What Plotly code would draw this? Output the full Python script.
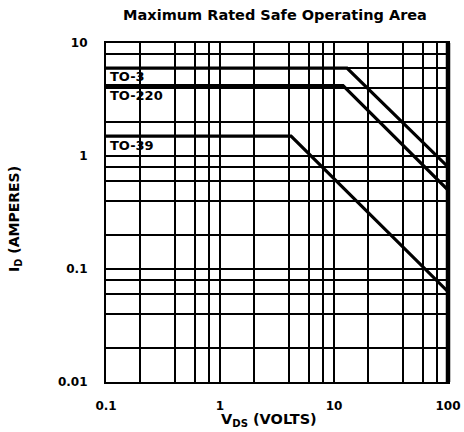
import math
import plotly.graph_objects as go

# ---- data ----
title_text = "Maximum Rated Safe Operating Area"
packages = ["TO-3", "TO-220", "TO-39"]
vds_to3 = [0.1, 13, 100]
id_to3 = [6, 6, 0.8]
vds_to220 = [0.1, 12, 100]
id_to220 = [4.2, 4.2, 0.5]
vds_to39 = [0.1, 4.2, 100]
id_to39 = [1.5, 1.5, 0.063]

x_major = [0.1, 1, 10, 100]
x_major_text = ["0.1", "1", "10", "100"]
x_minor = [0.2, 0.4, 0.6, 0.8, 2, 4, 6, 8, 20, 40, 60, 80]
y_major = [0.01, 0.1, 1, 10]
y_major_text = ["0.01", "0.1", "1", "10"]
y_minor = [0.02, 0.04, 0.06, 0.08, 0.2, 0.4, 0.6, 0.8, 2, 4, 6, 8]

label_y = [5.1, 3.4, 1.25]

FONT = "DejaVu Sans, Liberation Sans, Arial, sans-serif"
GRID_W = 1.7

fig = go.Figure()
for xs, ys in [(vds_to3, id_to3), (vds_to220, id_to220), (vds_to39, id_to39)]:
    fig.add_trace(go.Scatter(x=xs, y=ys, mode="lines",
                             line=dict(color="black", width=3.2),
                             showlegend=False, hoverinfo="skip"))

for name, yv in zip(packages, label_y):
    fig.add_annotation(x=-0.985, y=math.log10(yv), xref="x", yref="y",
                       text=f"<b>{name}</b>", showarrow=False, xanchor="left",
                       yanchor="middle", font=dict(family=FONT, size=13, color="black"))

axis_common = dict(type="log", showgrid=True, gridcolor="black", gridwidth=GRID_W,
                   showline=True, linecolor="black", linewidth=2.2, mirror=True,
                   ticks="", zeroline=False, automargin=False, tickangle=0,
                   tickfont=dict(family=FONT, size=12, color="black"))

fig.update_xaxes(range=[-1, 2], tickmode="array", tickvals=x_major,
                 ticktext=[f"<b>{t}</b>" for t in x_major_text],
                 minor=dict(tickmode="array", tickvals=x_minor, showgrid=True,
                            gridcolor="black", gridwidth=GRID_W, ticks=""),
                 ticklabelstandoff=11, **axis_common)
fig.update_yaxes(range=[-2, 1], tickmode="array", tickvals=y_major,
                 ticktext=[f"<b>{t}</b>" for t in y_major_text],
                 minor=dict(tickmode="array", tickvals=y_minor, showgrid=True,
                            gridcolor="black", gridwidth=GRID_W, ticks=""),
                 ticklabelstandoff=14, **axis_common)

# thick right border
fig.add_shape(type="line", xref="paper", yref="paper", x0=1, x1=1, y0=0, y1=1,
              line=dict(color="black", width=4.5))

fig.add_annotation(xref="paper", yref="paper", x=(269 - 106) / 342, y=(382 - 420) / 339,
                   text="<b>V<sub>DS</sub> (VOLTS)</b>", showarrow=False,
                   xanchor="center", yanchor="middle",
                   font=dict(family=FONT, size=14.5, color="black"))
fig.add_annotation(xref="paper", yref="paper", x=(15 - 106) / 342, y=(382 - 219) / 339,
                   text="<b>I<sub>D</sub> (AMPERES)</b>", showarrow=False, textangle=-90,
                   xanchor="center", yanchor="middle",
                   font=dict(family=FONT, size=14, color="black"))

fig.update_layout(
    width=464, height=432,
    margin=dict(l=106, r=16, t=43, b=50, autoexpand=False),
    paper_bgcolor="white", plot_bgcolor="white",
    title=dict(text=f"<b>{title_text}</b>", x=275 / 464, xanchor="center",
               y=1 - 15 / 432, yanchor="middle", automargin=False,
               font=dict(family=FONT, size=14.5, color="black")),
)

fig.write_html("out.html", config={"displayModeBar": False},
               post_script="document.body.style.margin='0';document.body.style.overflow='hidden';")
